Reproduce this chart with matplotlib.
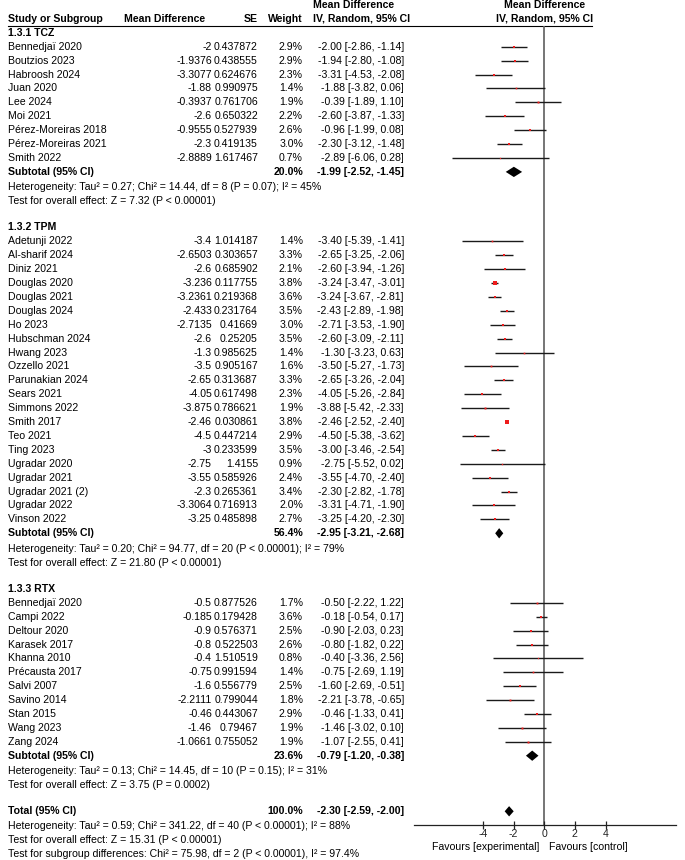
import matplotlib
matplotlib.use("Agg")
import matplotlib.pyplot as plt
from matplotlib.patches import Polygon

plt.rcParams['font.family'] = ['Liberation Sans', 'DejaVu Sans']
FS = 7.6

# ---- data ----
tcz_names = ["Bennedjaï 2020", "Boutzios 2023", "Habroosh 2024", "Juan 2020", "Lee 2024", "Moi 2021",
             "Pérez-Moreiras 2018", "Pérez-Moreiras 2021", "Smith 2022"]
tcz_md = [-2, -1.9376, -3.3077, -1.88, -0.3937, -2.6, -0.9555, -2.3, -2.8889]
tcz_se = [0.437872, 0.438555, 0.624676, 0.990975, 0.761706, 0.650322, 0.527939, 0.419135, 1.617467]
tcz_w = [2.9, 2.9, 2.3, 1.4, 1.9, 2.2, 2.6, 3.0, 0.7]
tcz_lo = [-2.86, -2.80, -4.53, -3.82, -1.89, -3.87, -1.99, -3.12, -6.06]
tcz_hi = [-1.14, -1.08, -2.08, 0.06, 1.10, -1.33, 0.08, -1.48, 0.28]
tcz_sub = (20.0, -1.99, -2.52, -1.45)
tcz_het = "Heterogeneity: Tau² = 0.27; Chi² = 14.44, df = 8 (P = 0.07); I² = 45%"
tcz_test = "Test for overall effect: Z = 7.32 (P < 0.00001)"

tpm_names = ["Adetunji 2022", "Al-sharif 2024", "Diniz 2021", "Douglas 2020", "Douglas 2021", "Douglas 2024",
             "Ho 2023", "Hubschman 2024", "Hwang 2023", "Ozzello 2021", "Parunakian 2024", "Sears 2021",
             "Simmons 2022", "Smith 2017", "Teo 2021", "Ting 2023", "Ugradar 2020", "Ugradar 2021",
             "Ugradar 2021 (2)", "Ugradar 2022", "Vinson 2022"]
tpm_md = [-3.4, -2.6503, -2.6, -3.236, -3.2361, -2.433, -2.7135, -2.6, -1.3, -3.5, -2.65, -4.05,
          -3.875, -2.46, -4.5, -3, -2.75, -3.55, -2.3, -3.3064, -3.25]
tpm_se = [1.014187, 0.303657, 0.685902, 0.117755, 0.219368, 0.231764, 0.41669, 0.25205, 0.985625,
          0.905167, 0.313687, 0.617498, 0.786621, 0.030861, 0.447214, 0.233599, 1.4155, 0.585926,
          0.265361, 0.716913, 0.485898]
tpm_w = [1.4, 3.3, 2.1, 3.8, 3.6, 3.5, 3.0, 3.5, 1.4, 1.6, 3.3, 2.3, 1.9, 3.8, 2.9, 3.5, 0.9, 2.4,
         3.4, 2.0, 2.7]
tpm_lo = [-5.39, -3.25, -3.94, -3.47, -3.67, -2.89, -3.53, -3.09, -3.23, -5.27, -3.26, -5.26, -5.42,
          -2.52, -5.38, -3.46, -5.52, -4.70, -2.82, -4.71, -4.20]
tpm_hi = [-1.41, -2.06, -1.26, -3.01, -2.81, -1.98, -1.90, -2.11, 0.63, -1.73, -2.04, -2.84, -2.33,
          -2.40, -3.62, -2.54, 0.02, -2.40, -1.78, -1.90, -2.30]
tpm_sub = (56.4, -2.95, -3.21, -2.68)
tpm_het = "Heterogeneity: Tau² = 0.20; Chi² = 94.77, df = 20 (P < 0.00001); I² = 79%"
tpm_test = "Test for overall effect: Z = 21.80 (P < 0.00001)"

rtx_names = ["Bennedjaï 2020", "Campi 2022", "Deltour 2020", "Karasek 2017", "Khanna 2010",
             "Précausta 2017", "Salvi 2007", "Savino 2014", "Stan 2015", "Wang 2023", "Zang 2024"]
rtx_md = [-0.5, -0.185, -0.9, -0.8, -0.4, -0.75, -1.6, -2.2111, -0.46, -1.46, -1.0661]
rtx_se = [0.877526, 0.179428, 0.576371, 0.522503, 1.510519, 0.991594, 0.556779, 0.799044, 0.443067,
          0.79467, 0.755052]
rtx_w = [1.7, 3.6, 2.5, 2.6, 0.8, 1.4, 2.5, 1.8, 2.9, 1.9, 1.9]
rtx_lo = [-2.22, -0.54, -2.03, -1.82, -3.36, -2.69, -2.69, -3.78, -1.33, -3.02, -2.55]
rtx_hi = [1.22, 0.17, 0.23, 0.22, 2.56, 1.19, -0.51, -0.65, 0.41, 0.10, 0.41]
rtx_sub = (23.6, -0.79, -1.20, -0.38)
rtx_het = "Heterogeneity: Tau² = 0.13; Chi² = 14.45, df = 10 (P = 0.15); I² = 31%"
rtx_test = "Test for overall effect: Z = 3.75 (P = 0.0002)"

groups = [
    ("1.3.1 TCZ", tcz_names, tcz_md, tcz_se, tcz_w, tcz_lo, tcz_hi, tcz_sub, tcz_het, tcz_test),
    ("1.3.2 TPM", tpm_names, tpm_md, tpm_se, tpm_w, tpm_lo, tpm_hi, tpm_sub, tpm_het, tpm_test),
    ("1.3.3 RTX", rtx_names, rtx_md, rtx_se, rtx_w, rtx_lo, rtx_hi, rtx_sub, rtx_het, rtx_test),
]
total = (100.0, -2.30, -2.59, -2.00)
total_lines = ["Heterogeneity: Tau² = 0.59; Chi² = 341.22, df = 40 (P < 0.00001); I² = 88%",
               "Test for overall effect: Z = 15.31 (P < 0.00001)",
               "Test for subgroup differences: Chi² = 75.98, df = 2 (P < 0.00001), I² = 97.4%"]
ticks = [-4, -2, 0, 2, 4]

# ---- layout (pixels, 100 dpi) ----
W, H = 685, 860
ROW0, ROWH = 19, 13.9
ytop = (0 - ROW0) / ROWH
ybot = (H - ROW0) / ROWH
X_NAME, X_MD, X_SE, X_W, X_CI = 8, 212, 258, 303, 404
PX0, PX1, PZERO, SCALE = 414, 676, 544.3, 15.3

fig = plt.figure(figsize=(W / 100, H / 100), dpi=100)
ax = fig.add_axes([0, 0, 1, 1])
ax.set_xlim(0, W)
ax.set_ylim(ybot, ytop)
ax.axis('off')

axf = fig.add_axes([PX0 / W, 0, (PX1 - PX0) / W, 1])
axf.set_xlim(-(PZERO - PX0) / SCALE, (PX1 - PZERO) / SCALE)
axf.set_ylim(ybot, ytop)
axf.patch.set_visible(False)
for s in ['left', 'right', 'top']:
    axf.spines[s].set_visible(False)
axf.yaxis.set_visible(False)


def txt(x, y, s, ha='left', bold=False):
    ax.text(x, y, s, ha=ha, va='center', fontsize=FS, fontweight='bold' if bold else 'normal')


def diamond(r, est, lo, hi):
    axf.add_patch(Polygon([(lo, r), (est, r - 0.37), (hi, r), (est, r + 0.37)],
                          closed=True, color='black', lw=0))


# headers
txt(313, -1, "Mean Difference", bold=True)
txt(X_NAME, 0, "Study or Subgroup", bold=True)
txt(205, 0, "Mean Difference", ha='right', bold=True)
txt(X_SE, 0, "SE", ha='right', bold=True)
txt(X_W, 0, "Weight", ha='right', bold=True)
txt(313, 0, "IV, Random, 95% CI", bold=True)
txt(PZERO, -1, "Mean Difference", ha='center', bold=True)
txt(PZERO, 0, "IV, Random, 95% CI", ha='center', bold=True)
ax.plot([8, 592], [0.5, 0.5], color='black', lw=0.8)

r = 1
for title, names, md, se, w, lo, hi, sub, het, test in groups:
    txt(X_NAME, r, title, bold=True)
    r += 1
    for i in range(len(names)):
        txt(X_NAME, r, names[i])
        txt(X_MD, r, '{:g}'.format(md[i]), ha='right')
        txt(X_SE, r, str(se[i]), ha='right')
        txt(X_W, r, '{:.1f}%'.format(w[i]), ha='right')
        txt(X_CI, r, '{:.2f} [{:.2f}, {:.2f}]'.format(md[i], lo[i], hi[i]), ha='right')
        axf.plot([lo[i], hi[i]], [r, r], color='#1a1a1a', lw=1.0, solid_capstyle='butt')
        axf.plot(md[i], r, 's', color='#ee1c1c', ms=0.6 + 0.42 * w[i], mew=0)
        r += 1
    txt(X_NAME, r, "Subtotal (95% CI)", bold=True)
    txt(X_W, r, '{:.1f}%'.format(sub[0]), ha='right', bold=True)
    txt(X_CI, r, '{:.2f} [{:.2f}, {:.2f}]'.format(sub[1], sub[2], sub[3]), ha='right', bold=True)
    diamond(r, sub[1], sub[2], sub[3])
    txt(X_NAME, r + 1.12, het)
    txt(X_NAME, r + 2.12, test)
    r += 4

txt(X_NAME, r, "Total (95% CI)", bold=True)
txt(X_W, r, '{:.1f}%'.format(total[0]), ha='right', bold=True)
txt(X_CI, r, '{:.2f} [{:.2f}, {:.2f}]'.format(total[1], total[2], total[3]), ha='right', bold=True)
diamond(r, total[1], total[2], total[3])
for k, line in enumerate(total_lines):
    txt(X_NAME, r + 1.08 + k, line)

axis_r = r + 1.0
axf.plot([0, 0], [0.55, axis_r], color='#6a6a6a', lw=1.3, zorder=0)
axf.spines['bottom'].set_position(('data', axis_r))
axf.spines['bottom'].set_color('#222222')
axf.spines['bottom'].set_linewidth(0.9)
axf.set_xticks(ticks)
axf.set_xticklabels([str(t) for t in ticks])
axf.tick_params(axis='x', direction='inout', length=6, width=0.9, pad=0, labelsize=FS, colors='#222222')

fav_r = axis_r + 1.55
ax.text(539, fav_r, "Favours [experimental]", ha='right', va='center', fontsize=FS)
ax.text(549, fav_r, "Favours [control]", ha='left', va='center', fontsize=FS)

fig.savefig("out.png", dpi=100)
